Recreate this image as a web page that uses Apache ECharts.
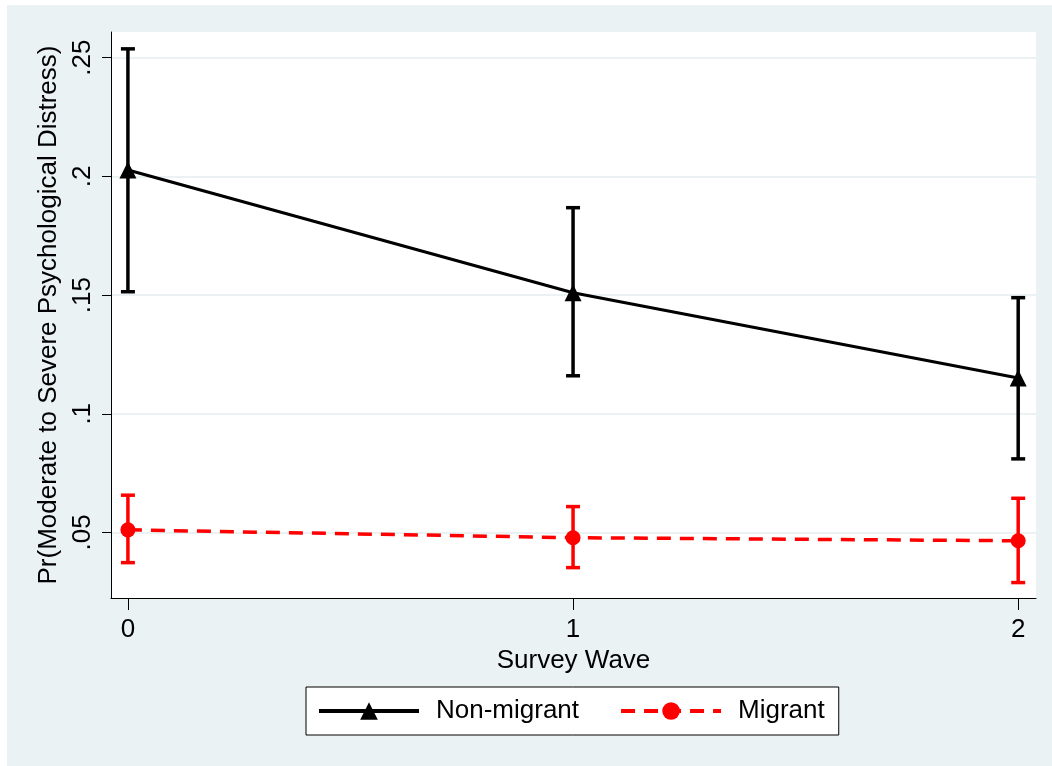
<!DOCTYPE html>
<html>
<head>
<meta charset="utf-8">
<script src="https://cdn.jsdelivr.net/npm/echarts@6/dist/echarts.min.js"></script>
<style>
  html, body { margin: 0; padding: 0; background: #ffffff; }
  #chart { width: 1052px; height: 766px; }
</style>
</head>
<body>
<div id="chart"></div>
<script>
// Survey waves on the x axis
const waves = [0, 1, 2];

// Predicted probability of moderate/severe distress with 95% CI
const nonMigrant     = [0.2027, 0.1510, 0.1151];
const nonMigrantLow  = [0.1514, 0.1160, 0.0810];
const nonMigrantHigh = [0.2537, 0.1868, 0.1489];

const migrant     = [0.0511, 0.0478, 0.0465];
const migrantLow  = [0.0373, 0.0352, 0.0289];
const migrantHigh = [0.0657, 0.0609, 0.0644];

// Axis ticks
const yTicks = [0.05, 0.10, 0.15, 0.20, 0.25];
const yTickLabels = ['.05', '.1', '.15', '.2', '.25'];
const xTicks = [0, 1, 2];

const FONT = '"Liberation Sans", Arial, sans-serif';
const FS = 26;
const BG = '#EAF2F3';

function errorBars(name, low, high, color) {
  return {
    type: 'custom',
    name: name + ' CI',
    silent: true,
    z: 1,
    data: waves.map((w, i) => [w, low[i], high[i]]),
    renderItem: (params, api) => {
      const x = api.value(0);
      const a = api.coord([x, api.value(1)]);
      const b = api.coord([x, api.value(2)]);
      const hw = 7;
      const style = { stroke: color, lineWidth: 3.5 };
      return {
        type: 'group',
        children: [
          { type: 'line', shape: { x1: a[0], y1: a[1], x2: b[0], y2: b[1] }, style },
          { type: 'line', shape: { x1: a[0] - hw, y1: a[1], x2: a[0] + hw, y2: a[1] }, style },
          { type: 'line', shape: { x1: b[0] - hw, y1: b[1], x2: b[0] + hw, y2: b[1] }, style }
        ]
      };
    }
  };
}

const chart = echarts.init(document.getElementById('chart'), null, { renderer: 'canvas' });

chart.setOption({
  animation: false,
  backgroundColor: '#ffffff',
  textStyle: { fontFamily: FONT },
  graphic: [{
    type: 'rect',
    z: -10,
    silent: true,
    shape: { x: 7, y: 5, width: 1045, height: 761 },
    style: { fill: BG }
  }],
  grid: {
    left: 111, top: 32, right: 16, bottom: 168,
    show: true, backgroundColor: '#ffffff', borderWidth: 0
  },
  legend: {
    data: ['Non-migrant', 'Migrant'],
    left: 306, top: 687,
    padding: [11, 14, 11, 11],
    borderColor: '#000000',
    borderWidth: 1,
    backgroundColor: '#ffffff',
    itemWidth: 100,
    itemHeight: 22,
    itemGap: 40,
    lineStyle: { width: 4 },
    textStyle: { fontFamily: FONT, fontSize: FS, color: '#000000', padding: [0, 0, 0, 12] }
  },
  xAxis: {
    type: 'value',
    min: -0.038, max: 2.04,
    name: 'Survey Wave',
    nameLocation: 'middle',
    nameGap: 46,
    nameTextStyle: { fontFamily: FONT, fontSize: FS, color: '#000000' },
    axisLine: { show: true, onZero: false, lineStyle: { color: '#000000', width: 1 } },
    axisTick: { show: true, length: 12, customValues: xTicks, lineStyle: { color: '#000000', width: 1 } },
    axisLabel: {
      customValues: xTicks, margin: 19,
      fontFamily: FONT, fontSize: FS, color: '#000000',
      formatter: v => String(v)
    },
    splitLine: { show: false }
  },
  yAxis: {
    type: 'value',
    min: 0.0224, max: 0.2608,
    name: 'Pr(Moderate to Severe Psychological Distress)',
    nameLocation: 'middle',
    nameGap: 42,
    nameTextStyle: { fontFamily: FONT, fontSize: FS, color: '#000000' },
    axisLine: { show: true, onZero: false, lineStyle: { color: '#000000', width: 1 } },
    axisTick: { show: true, length: 9, customValues: yTicks, lineStyle: { color: '#000000', width: 1 } },
    axisLabel: {
      customValues: yTicks, rotate: 90, margin: 15,
      fontFamily: FONT, fontSize: FS, color: '#000000',
      formatter: v => yTickLabels[yTicks.findIndex(t => Math.abs(t - v) < 1e-6)] || ''
    },
    splitLine: { show: true, lineStyle: { color: BG, width: 2 } }
  },
  series: [
    errorBars('Non-migrant', nonMigrantLow, nonMigrantHigh, '#000000'),
    errorBars('Migrant', migrantLow, migrantHigh, '#ff0000'),
    {
      name: 'Non-migrant',
      type: 'line',
      z: 3,
      data: waves.map((w, i) => [w, nonMigrant[i]]),
      symbol: 'triangle',
      symbolSize: 17,
      itemStyle: { color: '#000000' },
      lineStyle: { color: '#000000', width: 3 }
    },
    {
      name: 'Migrant',
      type: 'line',
      z: 3,
      data: waves.map((w, i) => [w, migrant[i]]),
      symbol: 'circle',
      symbolSize: 15,
      itemStyle: { color: '#ff0000' },
      lineStyle: { color: '#ff0000', width: 3.5, type: [14, 9] }
    }
  ]
});
</script>
</body>
</html>
